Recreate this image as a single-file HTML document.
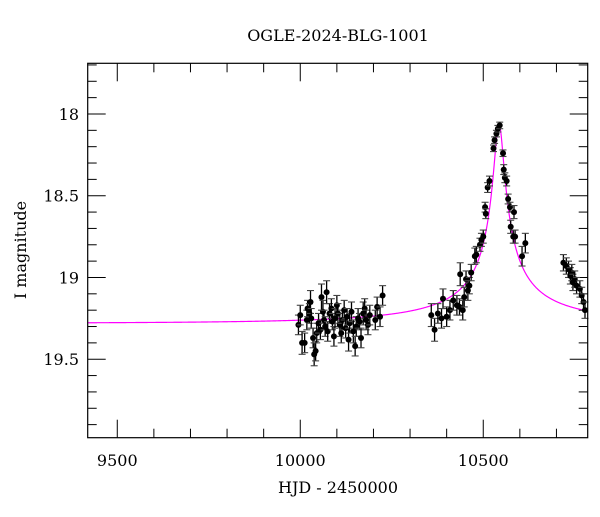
<!DOCTYPE html>
<html><head><meta charset="utf-8"><style>
html,body{margin:0;padding:0;background:#fff;}
svg text{font-family:"DejaVu Serif","Liberation Serif",serif;fill:#000;}
</style></head><body>
<svg id="chart" width="600" height="512" xmlns="http://www.w3.org/2000/svg">
<text x="338" y="41" font-size="16" text-anchor="middle">OGLE-2024-BLG-1001</text>
<text x="338" y="493" font-size="16" text-anchor="middle">HJD - 2450000</text>
<text transform="translate(26,250) rotate(-90)" font-size="16" text-anchor="middle">I magnitude</text>
<g id="ticks"></g>
<g id="model"></g>
<g id="points"></g>
<rect x="87.7" y="63.3" width="500" height="374.4" fill="none" stroke="#000" stroke-width="1.2"/>
</svg>
<script>
const xTickLabels=[9500,10000,10500];
const yTickLabels=[18,18.5,19,19.5];
const obsTime=[9995,10000,10005,10012,10018,10020,10025,10028,10030,10035,10038,10042,10045,10050,10055,10058,10062,10065,10068,10072,10075,10080,10085,10088,10092,10095,10100,10103,10108,10112,10115,10120,10124,10128,10132,10135,10140,10145,10150,10153,10158,10162,10166,10172,10176,10180,10185,10190,10205,10210,10218,10225,
10358,10367,10376,10386,10390,10400,10409,10418,10428,10435,10437,10444,10448,10453,10458,10462,10467,10477,10481,10491,10495,10500,10505,10507,10512,10517,10528,10531,10536,10540,10545,10554,10556,10559,10564,10568,10573,10575,10582,10584,10587,10606,10615,10719,10727,10733,10738,10742,10745,10750,10755,10764,10769,10774,10778];
const obsMag=[19.29,19.23,19.40,19.40,19.26,19.19,19.22,19.15,19.25,19.37,19.47,19.45,19.34,19.28,19.32,19.12,19.21,19.26,19.30,19.09,19.33,19.22,19.19,19.27,19.36,19.25,19.17,19.22,19.29,19.34,19.26,19.20,19.31,19.24,19.38,19.28,19.21,19.33,19.42,19.30,19.25,19.27,19.37,19.22,19.19,19.26,19.29,19.23,19.26,19.18,19.24,19.11,
19.23,19.32,19.22,19.25,19.13,19.24,19.20,19.14,19.17,19.18,18.98,19.20,19.12,19.01,19.08,19.05,18.97,18.87,18.86,18.80,18.77,18.75,18.57,18.61,18.45,18.41,18.21,18.16,18.12,18.09,18.07,18.24,18.34,18.39,18.41,18.52,18.57,18.69,18.75,18.60,18.75,18.87,18.79,18.91,18.93,18.95,18.99,18.97,19.03,19.01,19.05,19.07,19.11,19.15,19.20];
const obsErr=[0.06,0.06,0.07,0.06,0.06,0.05,0.06,0.07,0.06,0.06,0.07,0.06,0.06,0.06,0.06,0.08,0.07,0.06,0.06,0.07,0.06,0.06,0.06,0.05,0.06,0.06,0.06,0.06,0.07,0.06,0.06,0.06,0.06,0.05,0.07,0.06,0.06,0.07,0.06,0.06,0.06,0.05,0.06,0.07,0.06,0.06,0.06,0.06,0.06,0.06,0.06,0.06,
0.07,0.07,0.06,0.06,0.06,0.06,0.06,0.06,0.06,0.05,0.07,0.06,0.06,0.05,0.06,0.05,0.05,0.05,0.05,0.04,0.04,0.04,0.03,0.03,0.03,0.03,0.02,0.02,0.02,0.02,0.02,0.02,0.03,0.03,0.03,0.03,0.03,0.04,0.04,0.04,0.04,0.06,0.06,0.05,0.05,0.05,0.05,0.05,0.05,0.05,0.05,0.05,0.05,0.05,0.05];
const modelParams=[10543,550,0.0235,0.05,19.28]; // t0, tE, u0, source fraction, baseline mag

const NS="http://www.w3.org/2000/svg";
const L=87.7,R=587.7,T=63.3,B=437.7;
const xMin=9419.2,xMax=10785.4,yMin=17.69,yMax=19.98;
const sx=t=>L+(t-xMin)/(xMax-xMin)*(R-L);
const sy=m=>T+(m-yMin)/(yMax-yMin)*(B-T);
function mk(tag,attrs,parent){const e=document.createElementNS(NS,tag);for(const k in attrs)e.setAttribute(k,attrs[k]);parent.appendChild(e);return e;}
const tg=document.getElementById('ticks');
for(let t=9500;t<=xMax;t+=100){
  const major=(t%500===0);const len=major?18:9;const x=sx(t);
  let a=mk('line',{x1:x,y1:B,x2:x,y2:B-len,stroke:'#000','stroke-width':1},tg);
  
  
  let b=mk('line',{x1:x,y1:T,x2:x,y2:T+len,stroke:'#000','stroke-width':1},tg);
  
  
}
xTickLabels.forEach(v=>{
  const tx=mk('text',{x:sx(v),y:466,'font-size':16,'text-anchor':'middle'},tg);tx.textContent=v;
  
  
});
for(let i=0;i<=23;i++){
  const m=17.7+i*0.1;if(m>yMax)break;
  const major=Math.abs(m*2-Math.round(m*2))<1e-6;const len=major?18:9;const y=sy(m);
  let a=mk('line',{x1:L,y1:y,x2:L+len,y2:y,stroke:'#000','stroke-width':1},tg);
  
  
  let b=mk('line',{x1:R,y1:y,x2:R-len,y2:y,stroke:'#000','stroke-width':1},tg);
  
  
}
yTickLabels.forEach(v=>{
  const tx=mk('text',{x:79,y:sy(v)+6,'font-size':16,'text-anchor':'end'},tg);tx.textContent=v;
  
  
});
// model
const [t0,tE,u0,fs,mb]=modelParams;
function magAt(t){const tau=(t-t0)/tE;const u=Math.sqrt(u0*u0+tau*tau);const A=(u*u+2)/(u*Math.sqrt(u*u+4));return mb-2.5*Math.log10(1+fs*(A-1));}
let d='';for(let t=xMin;t<=xMax;t+=1){d+=(d?'L':'M')+sx(t).toFixed(2)+','+sy(magAt(t)).toFixed(2);}
const mp=mk('path',{d:d,fill:'none',stroke:'#ff00ff','stroke-width':1.2},document.getElementById('model'));


// points
const pg=document.getElementById('points');
obsTime.forEach((t,i)=>{
  const x=sx(t),y=sy(obsMag[i]),y1=sy(obsMag[i]-obsErr[i]),y2=sy(obsMag[i]+obsErr[i]);
  const g=mk('g',{},pg);
  
  
  mk('line',{x1:x,y1:y1,x2:x,y2:y2,stroke:'#000','stroke-width':1.3},g);
  mk('line',{x1:x-3.5,y1:y1,x2:x+3.5,y2:y1,stroke:'#444','stroke-width':1.1},g);
  mk('line',{x1:x-3.5,y1:y2,x2:x+3.5,y2:y2,stroke:'#444','stroke-width':1.1},g);
  mk('circle',{cx:x,cy:y,r:3,fill:'#000'},g);
});
</script>
</body></html>
